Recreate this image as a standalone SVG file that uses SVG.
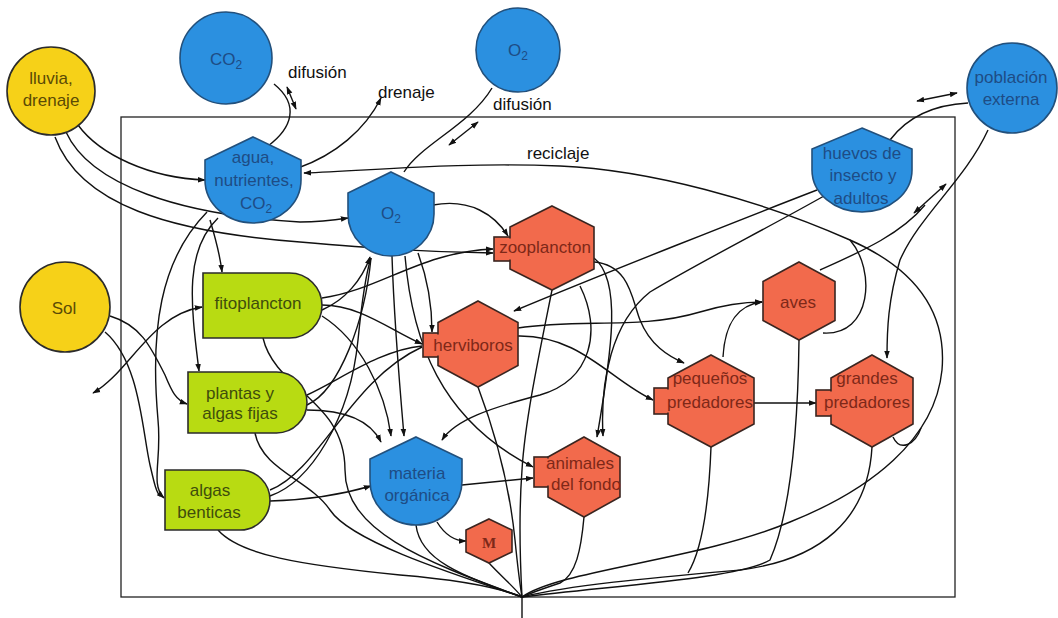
<svg xmlns="http://www.w3.org/2000/svg" width="1058" height="618" viewBox="0 0 1058 618">
<defs>
<marker id="a" viewBox="0 0 10 10" refX="9" refY="5" markerWidth="8" markerHeight="8" markerUnits="userSpaceOnUse" orient="auto-start-reverse"><path d="M0,1.5 L10,5 L0,8.5 z" fill="#111"/></marker>
</defs>
<style>
.c{fill:none;stroke:#111;stroke-width:1.4}
.ar{marker-end:url(#a)}
.dbl{marker-start:url(#a);marker-end:url(#a)}
.t{font-family:"Liberation Sans",Arial,sans-serif;font-size:17px;text-anchor:middle}
.lbl{font-family:"Liberation Sans",Arial,sans-serif;font-size:17px;fill:#111}
.yel{fill:#F6D118;stroke:#2b2b2b;stroke-width:1.6}
.blu{fill:#2B90E0;stroke:#22507c;stroke-width:1.6}
.grn{fill:#B8DB12;stroke:#2b2b2b;stroke-width:1.6}
.red{fill:#F26A4C;stroke:#3a2520;stroke-width:1.6}
.ty{fill:#5b4a05}.tb{fill:#1e4c85}.tg{fill:#3f4d0c}.tr{fill:#7e2818}
</style>
<rect width="1058" height="618" fill="#fff"/>
<rect x="121" y="117" width="834" height="480" fill="none" stroke="#222" stroke-width="1.3"/>
<g id="connectors">
<path class="c" d="M274,84 C300,105 292,128 268,146"/>
<path class="c dbl" d="M287,87 L296,109"/>
<path class="c ar" d="M298,168 C335,155 365,130 381,98"/>
<path class="c" d="M492,88 C470,125 420,145 404,172"/>
<path class="c dbl" d="M449,145 L478,122"/>
<path class="c ar" d="M522,597 C560,570 700,560 790,522 C870,490 935,440 942,370 C948,300 900,262 850,240 C760,200 650,170 560,166 C460,162 380,170 304,173"/>
<path class="c" d="M890,140 C905,120 930,105 968,103"/>
<path class="c dbl" d="M917,101 L957,93"/>
<path class="c ar" d="M988,130 C965,180 920,215 900,260 C888,300 887,330 887,358"/>
<path class="c dbl" d="M914,213 L946,184"/>
<path class="c" d="M820,270 C860,252 900,235 925,205"/>
<path class="c ar" d="M817,190 C760,212 600,275 514,311"/>
<path class="c ar" d="M824,196 C760,232 700,262 650,292 C612,322 600,380 603,436"/>
<path class="c ar" d="M78,125 C100,155 150,178 205,180"/>
<path class="c ar" d="M66,132 C90,185 180,215 300,222 C320,222 335,220 348,218"/>
<path class="c ar" d="M55,137 C80,205 170,232 300,242 C370,248 420,252 493,253"/>
<path class="c ar" d="M210,220 C216,240 220,255 222,272"/>
<path class="c ar" d="M218,218 C185,250 190,300 199,371"/>
<path class="c ar" d="M207,212 C160,260 150,330 158,420 C162,460 150,485 164,498"/>
<path class="c ar" d="M110,316 C140,325 150,345 165,375 C172,392 176,400 187,404"/>
<path class="c dbl" d="M93,393 C130,372 150,315 202,307"/>
<path class="c" d="M105,332 C140,362 142,430 150,465 C154,482 156,492 160,496"/>
<path class="c ar" d="M322,298 C380,290 420,252 493,249"/>
<path class="c ar" d="M322,305 C360,305 390,330 422,344"/>
<path class="c" d="M307,395 C340,380 380,350 422,346"/>
<path class="c" d="M270,490 C320,470 350,380 422,347"/>
<path class="c ar" d="M322,310 C345,300 362,280 370,257"/>
<path class="c" d="M307,405 C340,390 365,320 371,258"/>
<path class="c" d="M270,496 C310,482 350,420 358,340 C362,300 367,270 371,258"/>
<path class="c ar" d="M322,316 C360,340 385,390 391,436"/>
<path class="c ar" d="M307,410 C345,410 370,420 381,442"/>
<path class="c ar" d="M270,501 C310,500 340,495 371,486"/>
<path class="c ar" d="M392,256 C394,320 400,390 404,436"/>
<path class="c ar" d="M418,253 C428,280 432,305 432,332"/>
<path class="c ar" d="M433,205 C470,198 495,215 508,236"/>
<path class="c ar" d="M405,256 C412,340 440,420 533,467"/>
<path class="c ar" d="M518,336 C580,335 610,380 653,400"/>
<path class="c ar" d="M518,328 C580,318 640,330 700,312 C720,306 740,302 762,302"/>
<path class="c ar" d="M594,262 C630,265 632,300 640,320 C650,345 668,356 684,363"/>
<path class="c ar" d="M580,286 C602,330 592,380 540,395 C490,408 455,420 442,440"/>
<path class="c ar" d="M723,357 C725,322 738,305 762,302"/>
<path class="c ar" d="M754,403 L816,403"/>
<path class="c" d="M823,333 C872,336 876,270 850,240"/>
<path class="c" d="M893,437 C900,452 915,445 921,428"/>
<path class="c ar" d="M594,258 C622,280 612,350 597,437"/>
<path class="c ar" d="M462,485 L533,478"/>
<path class="c ar" d="M437,522 C445,535 455,541 466,541"/>
<path class="c" d="M799,340 C798,420 792,510 770,560 C740,578 620,585 522,597"/>
<path class="c" d="M872,447 C868,520 820,560 740,570 C650,578 570,585 522,597"/>
<path class="c" d="M711,447 C709,500 702,550 688,573"/>
<path class="c" d="M584,517 C581,550 576,575 560,583 C545,588 530,593 522,597"/>
<path class="c" d="M478,387 C498,440 510,490 515,540 C518,570 520,585 522,597"/>
<path class="c" d="M552,290 C540,350 525,420 522,470 C519,510 520,560 522,597"/>
<path class="c" d="M416,525 C420,560 460,575 522,597"/>
<path class="c" d="M489,563 C500,575 512,585 522,597"/>
<path class="c" d="M218,530 C240,555 300,565 400,575 C460,580 500,588 522,597"/>
<path class="c" d="M263,338 C275,390 345,400 345,470 C345,530 420,560 522,597"/>
<path class="c" d="M255,433 C262,470 310,480 330,510 C350,540 440,570 522,597"/>
<path class="c" d="M522,597 L522,618"/>
</g>
<g id="lluvia"><circle class="yel" cx="51" cy="91" r="44"/><text class="t ty" x="51" y="84">lluvia,</text><text class="t ty" x="51" y="106">drenaje</text></g>
<g id="sol"><circle class="yel" cx="65" cy="307" r="45"/><text class="t ty" x="64" y="314">Sol</text></g>
<g id="co2"><circle class="blu" cx="226" cy="58" r="46"/><text class="t tb" x="226" y="65">CO<tspan font-size="12" dy="4">2</tspan></text></g>
<g id="o2ext"><circle class="blu" cx="518" cy="50" r="42"/><text class="t tb" x="518" y="56">O<tspan font-size="12" dy="4">2</tspan></text></g>
<g id="poblacion"><circle class="blu" cx="1012" cy="88" r="45"/><text class="t tb" x="1011" y="83">población</text><text class="t tb" x="1011" y="105">externa</text></g>
<g id="agua"><path class="blu" d="M253,137 L301,160 L301,180 A48,43 0 0 1 205,180 L205,160 Z"/><text class="t tb" x="253" y="163">agua,</text><text class="t tb" x="254" y="186">nutrientes,</text><text class="t tb" x="256" y="209">CO<tspan font-size="12" dy="4">2</tspan></text></g>
<g id="o2"><path class="blu" d="M391,172 L434,193 L434,214 A43,42 0 0 1 348,214 L348,193 Z"/><text class="t tb" x="391" y="219">O<tspan font-size="12" dy="4">2</tspan></text></g>
<g id="huevos"><path class="blu" d="M862,128 L912,149 L912,170 A50,42 0 0 1 812,170 L812,149 Z"/><text class="t tb" x="862" y="159">huevos de</text><text class="t tb" x="863" y="181">insecto y</text><text class="t tb" x="861" y="204">adultos</text></g>
<g id="materia"><path class="blu" d="M416,437 L462,459 L462,481 A46,44 0 0 1 370,481 L370,459 Z"/><text class="t tb" x="417" y="479">materia</text><text class="t tb" x="417" y="501">orgánica</text></g>
<g id="fitoplancton"><path class="grn" d="M203,273 H289.5 A32.5,32.5 0 0 1 289.5,338 H203 Z"/><text class="t tg" x="258" y="309">fitoplancton</text></g>
<g id="plantas"><path class="grn" d="M188,372 H276.5 A30.5,30.5 0 0 1 276.5,433 H188 Z"/><text class="t tg" x="240" y="399">plantas y</text><text class="t tg" x="240" y="419">algas fijas</text></g>
<g id="benticas"><path class="grn" d="M165,470 H240 A30,30 0 0 1 240,530 H165 Z"/><text class="t tg" x="210" y="496">algas</text><text class="t tg" x="209" y="518">benticas</text></g>
<g id="zooplancton"><rect class="red" x="494" y="237" width="18" height="24"/><polygon class="red" points="552,206 594,227 594,269 552,290 510,269 510,227"/><rect x="508" y="238.5" width="5" height="21" fill="#F26A4C"/><text class="t tr" x="545" y="253">zooplancton</text></g>
<g id="herviboros"><rect class="red" x="423" y="333" width="17" height="24"/><polygon class="red" points="478,301 518,322.5 518,365.5 478,387 438,365.5 438,322.5"/><rect x="436" y="334.5" width="5" height="21" fill="#F26A4C"/><text class="t tr" x="473" y="351">herviboros</text></g>
<g id="pequenos"><rect class="red" x="654" y="388" width="16" height="26"/><polygon class="red" points="711,355 754,378 754,424 711,447 668,424 668,378"/><rect x="666" y="389.5" width="5" height="23" fill="#F26A4C"/><text class="t tr" x="710" y="384">pequeños</text><text class="t tr" x="710" y="408">predadores</text></g>
<g id="aves"><polygon class="red" points="799,262 835,281.5 835,320.5 799,340 763,320.5 763,281.5"/><text class="t tr" x="798" y="308">aves</text></g>
<g id="grandes"><rect class="red" x="816" y="390" width="17" height="26"/><polygon class="red" points="872,355 913,378 913,424 872,447 831,424 831,378"/><rect x="829" y="391.5" width="5" height="23" fill="#F26A4C"/><text class="t tr" x="867" y="384">grandes</text><text class="t tr" x="867" y="408">predadores</text></g>
<g id="animales"><rect class="red" x="534" y="457" width="16" height="30"/><polygon class="red" points="584,437 620,457 620,497 584,517 548,497 548,457"/><rect x="546" y="458.5" width="5" height="27" fill="#F26A4C"/><text class="t tr" x="580" y="469">animales</text><text class="t tr" x="586" y="490">del fondo</text></g>
<g id="m"><polygon class="red" points="489,519 512,530 512,552 489,563 466,552 466,530"/><text x="489" y="548" text-anchor="middle" font-family="Liberation Serif,serif" font-weight="bold" font-size="15" fill="#7e2818">M</text></g>
<g id="labels">
<text class="lbl" x="288" y="78">difusión</text>
<text class="lbl" x="378" y="98">drenaje</text>
<text class="lbl" x="493" y="110">difusión</text>
<text class="lbl" x="527" y="159">reciclaje</text>
</g>
</svg>
